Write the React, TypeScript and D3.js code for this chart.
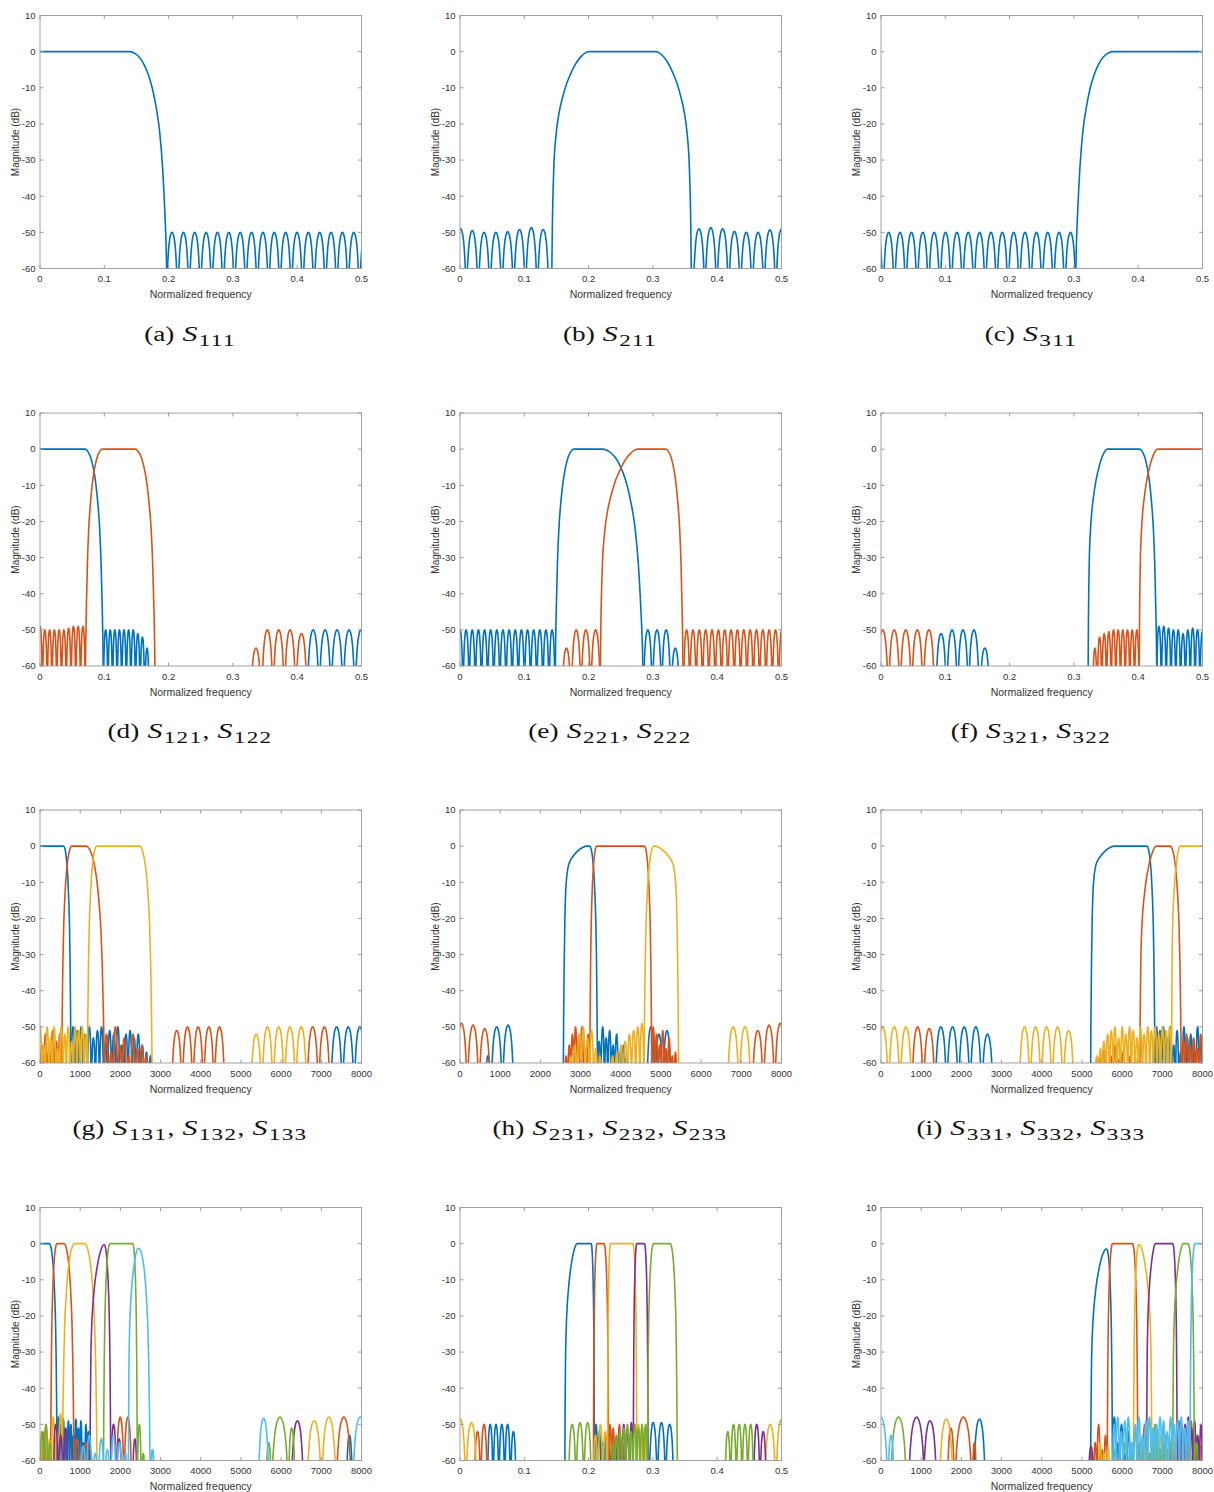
import React from "react";
import * as d3 from "d3";

// MATLAB default line colours
const COLORS = ["#0072BD", "#D95319", "#EDB120", "#7E2F8E", "#77AC30", "#4DBEEE"];

const Y_TICKS = [-60, -50, -40, -30, -20, -10, 0, 10];
const X_TICKS_NORM = [0, 0.1, 0.2, 0.3, 0.4, 0.5];
const X_TICKS_HZ = [0, 1000, 2000, 3000, 4000, 5000, 6000, 7000, 8000];

// edge shapes: [t, dB below peak], t=0 at knee, t=1 at foot
const EDGE_SHARP = [[0, 0], [0.1, -0.3], [0.2, -1], [0.3, -2.2], [0.4, -4], [0.5, -6.5], [0.6, -10], [0.7, -15], [0.8, -22], [0.88, -32], [0.94, -44], [0.98, -55], [1, -65]];
const EDGE_SOFT = [[0, 0], [0.1, -0.4], [0.2, -1.3], [0.3, -2.6], [0.4, -4.3], [0.5, -6.5], [0.6, -9], [0.7, -12.5], [0.8, -17], [0.88, -23], [0.94, -32], [0.98, -48], [1, -65]];
const EDGE_ROUND = [[0, 0], [0.15, -0.3], [0.3, -0.9], [0.45, -1.8], [0.6, -3], [0.7, -4], [0.8, -6], [0.86, -9], [0.9, -13], [0.93, -20], [0.96, -32], [0.985, -48], [1, -65]];
const EDGE_SHAPES = [EDGE_SHARP, EDGE_SOFT, EDGE_ROUND];

// one stopband lobe: [u, dB below lobe peak]
const LOBE_SHAPE = [[0, -40], [0.02, -24], [0.05, -16], [0.1, -10.2], [0.15, -7], [0.2, -4.6], [0.3, -1.8], [0.4, -0.45], [0.5, 0], [0.6, -0.45], [0.7, -1.8], [0.8, -4.6], [0.85, -7], [0.9, -10.2], [0.95, -16], [0.98, -24], [1, -40]];

// bands: [curve, footLo, kneeLo, kneeHi, footHi, peak dB, shapeLo, shapeHi]
// lobes: [curve, from, to, peaks of each lobe]
const BANDS_A = [[0, -0.2, -0.1, 0.14, 0.1975, 0, 0, 0]];
const LOBES_A = [[0, 0.1965, 0.5145, [-50, -50, -50, -50, -50, -50, -50, -50, -50, -50, -50, -50, -50, -50, -50, -50, -50, -50]]];

const BANDS_B = [[0, 0.1425, 0.2, 0.305, 0.36, 0, 1, 1]];
const LOBES_B = [
  [0, -0.0085, 0.1385, [-49, -49.5, -50, -50, -49.8, -49.2, -48.7, -49.2]],
  [0, 0.3625, 0.5095, [-49, -48.7, -49, -49.7, -50, -50, -49.3, -49]],
];

const BANDS_C = [[0, 0.3025, 0.36, 0.6, 0.7, 0, 0, 0]];
const LOBES_C = [[0, -0.0145, 0.3035, [-50, -50, -50, -50, -50, -50, -50, -50, -50, -50, -50, -50, -50, -50, -50, -50, -50, -50]]];

const BANDS_D = [
  [0, -0.2, -0.1, 0.07, 0.0985, 0, 0, 0],
  [1, 0.0705, 0.097, 0.148, 0.179, 0, 0, 0],
];
const LOBES_D = [
  [0, 0.0985, 0.17, [-50, -50, -50, -50, -50, -50, -50, -51, -52, -55]],
  [0, 0.4155, 0.5085, [-50, -50, -50, -50, -50]],
  [1, -0.0036, 0.0705, [-49, -50, -50, -50, -50, -50, -49.5, -49, -49, -49]],
  [1, 0.327, 0.4155, [-55, -50, -50, -50, -51]],
];

const BANDS_E = [
  [0, 0.148, 0.177, 0.222, 0.285, 0, 0, 0],
  [1, 0.218, 0.276, 0.32, 0.347, 0, 1, 0],
];
const LOBES_E = [
  [0, -0.0048, 0.148, [-50, -50, -50, -50, -50, -50, -50, -50, -50, -50, -50, -50, -50, -50, -50, -50]],
  [0, 0.285, 0.342, [-50, -50, -50, -55]],
  [1, 0.158, 0.2185, [-55, -50, -50, -50]],
  [1, 0.3475, 0.5055, [-50, -50, -50, -50, -50, -50, -50, -50, -50, -50, -50, -50, -50, -50, -50, -50]],
];

const BANDS_F = [
  [0, 0.322, 0.352, 0.402, 0.429, 0, 1, 0],
  [1, 0.4015, 0.43, 0.6, 0.7, 0, 1, 0],
];
const LOBES_F = [
  [0, 0.085, 0.17, [-51, -50, -50, -50, -55]],
  [0, 0.4285, 0.5035, [-49, -49, -49.5, -50, -50, -51, -50, -49.5, -50, -50.5]],
  [1, -0.0065, 0.0835, [-50, -50, -50, -50, -50]],
  [1, 0.329, 0.4015, [-55, -52, -51, -50.5, -50, -50, -50, -50, -50, -50]],
];

const BANDS_G = [
  [0, -2000, -1000, 590, 770, 0, 0, 0],
  [1, 540, 790, 1150, 1600, 0, 0, 0],
  [2, 1180, 1410, 2480, 2790, 0, 0, 0],
];
const LOBES_G = [
  [0, 770, 2800, [-50, -51, -50, -52, -50, -53, -51, -50, -54, -51, -52, -50, -55, -52, -51, -53, -52, -55, -57, -58]],
  [0, 7235, 8105, [-50, -50, -50]],
  [1, 0, 540, [-55, -52, -56, -51, -54, -52]],
  [1, 1600, 2700, [-52, -57, -50, -55, -53, -58, -52, -56, -55, -58]],
  [1, 3270, 4600, [-51, -50, -50, -50, -50]],
  [1, 6640, 7220, [-50, -50]],
  [2, -40, 1180, [-50, -55, -50, -53, -50, -56, -50, -52, -50, -54, -50, -51, -50, -52]],
  [2, 5240, 6640, [-52, -50, -50, -50, -50]],
];

const BANDS_H = [
  [0, 2570, 3150, 3230, 3420, 0, 2, 0],
  [1, 3230, 3400, 4590, 4770, 0, 0, 0],
  [2, 4580, 4820, 4850, 5440, 0, 0, 2],
];
const LOBES_H = [
  [0, 620, 770, [-58]],
  [0, 770, 1340, [-50, -49.5]],
  [0, 3420, 4200, [-54, -50, -53, -51, -55, -52, -57, -55, -58]],
  [0, 4650, 5250, [-50, -52, -51]],
  [1, -110, 760, [-49, -49.5, -50.5]],
  [1, 2600, 3230, [-58, -55, -52, -50, -53, -50, -56, -52]],
  [1, 4770, 5400, [-50, -52, -55, -51, -56, -53, -58, -57]],
  [1, 7270, 8110, [-51, -49.5, -49]],
  [2, 2700, 4580, [-58, -55, -52, -50, -53, -51, -56, -58, -60, -60, -58, -57, -55, -54, -52, -51, -50, -49]],
  [2, 6650, 7240, [-50, -50]],
];

const BANDS_I = [
  [0, 5215, 5800, 6620, 6815, 0, 2, 0],
  [1, 6440, 6850, 7200, 7470, 0, 1, 0],
  [2, 7230, 7440, 9000, 9500, 0, 1, 0],
];
const LOBES_I = [
  [0, 1345, 2795, [-50, -50, -50, -50, -52]],
  [0, 6815, 8005, [-50, -51, -50, -53, -50, -55, -51, -57, -50, -53, -52, -56, -50, -54]],
  [1, 765, 1345, [-50, -50.5]],
  [1, 5300, 6440, [-60, -58, -56, -60, -58, -55, -59, -57, -60, -58, -60, -59]],
  [1, 7470, 8000, [-54, -52, -55, -53, -56, -52]],
  [2, -105, 765, [-50, -50, -50]],
  [2, 3435, 4805, [-50, -50, -50, -50, -51]],
  [2, 5230, 7230, [-60, -58, -56, -54, -52, -51, -50, -53, -50, -52, -50, -51, -53, -50, -52, -50, -51, -50, -52, -50, -51, -50]],
];

const BANDS_J = [
  [0, -2000, -1000, 235, 425, 0, 0, 0],
  [1, 265, 420, 600, 845, 0, 0, 0],
  [2, 555, 860, 1110, 1420, 0, 0, 0],
  [3, 1244, 1590, 1600, 1760, -0.3, 1, 0],
  [4, 1580, 1740, 2310, 2420, 0, 0, 0],
  [5, 2200, 2440, 2460, 2740, -1.3, 1, 0],
];
const LOBES_J = [
  [0, 425, 1300, [-48, -50, -48.5, -52, -49, -50, -53, -48.5, -51, -49, -55, -50, -52, -58]],
  [0, 7620, 7780, [-53]],
  [1, -50, 265, [-55, -52, -58]],
  [1, 845, 1300, [-54, -58, -56]],
  [1, 1060, 1230, [-55]],
  [1, 1900, 2280, [-48, -48]],
  [1, 7370, 7750, [-48]],
  [2, -80, 555, [-50, -56, -50, -54, -48, -52, -47]],
  [2, 2740, 2850, [-57]],
  [2, 6640, 7370, [-49, -48]],
  [3, 330, 700, [-50, -53, -51]],
  [3, 1760, 2040, [-50, -54]],
  [3, 2300, 2420, [-54]],
  [3, 6250, 6560, [-49]],
  [4, 0, 300, [-52, -50, -55]],
  [4, 2420, 2620, [-50, -58]],
  [4, 5620, 5760, [-55]],
  [4, 5760, 6180, [-48]],
  [4, 6180, 6350, [-51]],
  [5, 1000, 2200, [-56, -53, -58, -54, -57, -53, -55, -58]],
  [5, 2740, 2860, [-57]],
  [5, 5430, 5700, [-48.3]],
  [5, 7780, 8150, [-48]],
];

const BANDS_K = [
  [0, 0.163, 0.182, 0.204, 0.209, 0, 1, 0],
  [1, 0.2075, 0.213, 0.224, 0.231, 0, 0, 0],
  [2, 0.2295, 0.234, 0.269, 0.275, 0, 0, 0],
  [3, 0.2695, 0.275, 0.287, 0.2925, 0, 0, 0],
  [4, 0.2915, 0.301, 0.327, 0.338, 0, 0, 0],
];
const LOBES_K = [
  [0, 0.0425, 0.0875, [-50, -50, -50, -50, -52]],
  [0, 0.209, 0.245, [-50, -52, -55, -53, -57, -56, -58]],
  [0, 0.294, 0.3325, [-49.5, -49.5, -50]],
  [1, 0.022, 0.0425, [-52, -50]],
  [1, 0.231, 0.26, [-50, -51, -53, -50, -55, -58]],
  [2, -0.0085, 0.0265, [-48.5, -49.5]],
  [2, 0.207, 0.2295, [-53, -50, -52]],
  [2, 0.275, 0.29, [-50, -52, -51]],
  [2, 0.4735, 0.509, [-50, -48.5]],
  [3, 0.24, 0.2695, [-56, -53, -50, -52, -49.5]],
  [3, 0.4565, 0.4765, [-50, -52]],
  [4, 0.1685, 0.2045, [-50, -49.5, -49.5]],
  [4, 0.235, 0.2915, [-55, -53, -52, -51, -50, -52, -50, -51, -50, -50]],
  [4, 0.412, 0.4565, [-52, -50, -50, -50, -50]],
];

const BANDS_L = [
  [0, 5215, 5600, 5620, 5760, -1.5, 1, 0],
  [1, 5630, 5760, 6260, 6390, 0, 0, 0],
  [2, 6280, 6410, 6430, 6740, -0.3, 0, 1],
  [3, 6610, 6830, 7260, 7370, 0, 1, 0],
  [4, 7260, 7520, 7640, 7800, 0, 1, 0],
  [5, 7690, 7810, 9000, 9500, 0, 0, 0],
];
const LOBES_L = [
  [0, 2300, 2600, [-48.5]],
  [0, 5760, 6300, [-48, -55, -50, -58, -52, -56]],
  [1, 1650, 1830, [-51]],
  [1, 1830, 2270, [-48]],
  [1, 2270, 2380, [-55]],
  [1, 5200, 5630, [-58, -55, -50, -57, -53]],
  [1, 6390, 8000, [-55, -50, -58, -53, -56, -51, -57, -52, -55, -50, -54, -49, -53, -56]],
  [2, 1450, 1800, [-48.5]],
  [2, 5300, 5700, [-60, -55, -58, -56]],
  [2, 6740, 8000, [-56, -53, -58, -55, -57, -54, -58, -56]],
  [3, 680, 1090, [-48]],
  [3, 1050, 1390, [-49]],
  [3, 5150, 5300, [-56]],
  [3, 7370, 8000, [-49, -52, -50, -48, -51, -49, -53, -50]],
  [4, 230, 640, [-48]],
  [4, 5760, 7260, [-57, -60, -55, -58, -52, -56, -54, -58, -50, -57, -53, -55]],
  [4, 7800, 8000, [-55, -60]],
  [5, -170, 170, [-48]],
  [5, 170, 330, [-53]],
  [5, 5760, 7690, [-50, -48, -52, -49, -48, -55, -50, -48, -53, -49, -48, -51, -50, -48, -49, -52, -48, -50, -49, -48, -51, -49]],
];

const CAPTIONS = [
  ["a", ["111"]], ["b", ["211"]], ["c", ["311"]],
  ["d", ["121", "122"]], ["e", ["221", "222"]], ["f", ["321", "322"]],
  ["g", ["131", "132", "133"]], ["h", ["231", "232", "233"]], ["i", ["331", "332", "333"]],
];

const COL_LEFT = [40, 460, 881];
const ROW_TOP = [15.5, 413, 810, 1207.5];
const W = 321.5;
const H = 253;

const PANELS = [
  { id: "a", col: 0, row: 0, xMax: 0.5, bands: BANDS_A, lobes: LOBES_A, labels: true },
  { id: "b", col: 1, row: 0, xMax: 0.5, bands: BANDS_B, lobes: LOBES_B, labels: true },
  { id: "c", col: 2, row: 0, xMax: 0.5, bands: BANDS_C, lobes: LOBES_C, labels: true },
  { id: "d", col: 0, row: 1, xMax: 0.5, bands: BANDS_D, lobes: LOBES_D, labels: true },
  { id: "e", col: 1, row: 1, xMax: 0.5, bands: BANDS_E, lobes: LOBES_E, labels: true },
  { id: "f", col: 2, row: 1, xMax: 0.5, bands: BANDS_F, lobes: LOBES_F, labels: true },
  { id: "g", col: 0, row: 2, xMax: 8000, bands: BANDS_G, lobes: LOBES_G, labels: true },
  { id: "h", col: 1, row: 2, xMax: 8000, bands: BANDS_H, lobes: LOBES_H, labels: true },
  { id: "i", col: 2, row: 2, xMax: 8000, bands: BANDS_I, lobes: LOBES_I, labels: true },
  { id: "j", col: 0, row: 3, xMax: 8000, bands: BANDS_J, lobes: LOBES_J, labels: true },
  { id: "k", col: 1, row: 3, xMax: 0.5, bands: BANDS_K, lobes: LOBES_K, labels: false },
  { id: "l", col: 2, row: 3, xMax: 8000, bands: BANDS_L, lobes: LOBES_L, labels: true },
];

const AXIS_GRAY = "#9a9a9a";
const TEXT_GRAY = "#333";
const SANS = "'Liberation Sans', Arial, Helvetica, sans-serif";
const SERIF = "'Liberation Serif', 'Times New Roman', serif";

function bandPoints(b) {
  const [, f0, f1, f2, f3, peak, sLo, sHi] = b;
  const lo = EDGE_SHAPES[sLo];
  const hi = EDGE_SHAPES[sHi];
  const pts = [];
  for (let i = lo.length - 1; i >= 0; i--) {
    const [t, d] = lo[i];
    pts.push([f1 - t * (f1 - f0), peak + d]);
  }
  for (const [t, d] of hi) pts.push([f2 + t * (f3 - f2), peak + d]);
  return pts;
}

function lobeSegments(g) {
  const [, from, to, peaks] = g;
  const w = (to - from) / peaks.length;
  return peaks.map((pk, i) => LOBE_SHAPE.map(([u, d]) => [from + (i + u) * w, pk + d]));
}

function Panel({ p }) {
  const left = COL_LEFT[p.col];
  const top = ROW_TOP[p.row];
  const x = d3.scaleLinear().domain([0, p.xMax]).range([left, left + W]);
  const y = d3.scaleLinear().domain([-60, 10]).range([top + H, top]);
  const line = d3.line().x((d) => x(d[0])).y((d) => y(d[1])).curve(d3.curveMonotoneX);
  const xTicks = p.xMax === 8000 ? X_TICKS_HZ : X_TICKS_NORM;
  const clipId = `clip-${p.id}`;

  // MATLAB draws series in order: collect paths per curve
  const paths = [];
  for (let c = 0; c < COLORS.length; c++) {
    p.bands.filter((b) => b[0] === c).forEach((b) => paths.push({ c, d: line(bandPoints(b)) }));
    p.lobes
      .filter((g) => g[0] === c)
      .forEach((g) => paths.push({ c, d: lobeSegments(g).map((s) => line(s)).join("") }));
  }

  const tk = 3.5;
  return (
    <g>
      <defs>
        <clipPath id={clipId}>
          <rect x={left} y={top} width={W} height={H} />
        </clipPath>
      </defs>
      <rect x={left} y={top} width={W} height={H} fill="#fff" />
      <g clipPath={`url(#${clipId})`}>
        {paths.map((pt, i) => (
          <path key={i} d={pt.d} fill="none" stroke={COLORS[pt.c]} strokeWidth={1.6} strokeLinejoin="round" />
        ))}
      </g>
      <rect x={left} y={top} width={W} height={H} fill="none" stroke={AXIS_GRAY} strokeWidth={0.9} />
      {xTicks.map((v) => (
        <g key={`x${v}`}>
          <line x1={x(v)} x2={x(v)} y1={top + H} y2={top + H - tk} stroke={AXIS_GRAY} />
          <line x1={x(v)} x2={x(v)} y1={top} y2={top + tk} stroke={AXIS_GRAY} />
          <text x={x(v)} y={top + H + 13.5} textAnchor="middle" fontSize={9.5} fontFamily={SANS} fill={TEXT_GRAY}>
            {String(v)}
          </text>
        </g>
      ))}
      {Y_TICKS.map((v) => (
        <g key={`y${v}`}>
          <line x1={left} x2={left + tk} y1={y(v)} y2={y(v)} stroke={AXIS_GRAY} />
          <line x1={left + W} x2={left + W - tk} y1={y(v)} y2={y(v)} stroke={AXIS_GRAY} />
          <text x={left - 4.5} y={y(v) + 3.3} textAnchor="end" fontSize={9.5} fontFamily={SANS} fill={TEXT_GRAY}>
            {v}
          </text>
        </g>
      ))}
      {p.labels && (
        <>
          <text x={left + W / 2} y={top + H + 29.5} textAnchor="middle" fontSize={10.5} fontFamily={SANS} fill={TEXT_GRAY}>
            Normalized frequency
          </text>
          <text
            transform={`translate(${left - 21.5},${top + H / 2}) rotate(-90)`}
            textAnchor="middle"
            fontSize={10}
            fontFamily={SANS}
            fill={TEXT_GRAY}
          >
            Magnitude (dB)
          </text>
        </>
      )}
    </g>
  );
}

function Caption({ idx }) {
  const [letter, subs] = CAPTIONS[idx];
  const col = idx % 3;
  const row = Math.floor(idx / 3);
  const cx = COL_LEFT[col] + 150;
  const cy = ROW_TOP[row] + H + 72;
  return (
    <text
      transform={`translate(${cx},${cy}) scale(1.36,1)`}
      textAnchor="middle"
      fontFamily={SERIF}
      fontSize={20}
      fill="#111"
    >
      {`(${letter})\u00a0`}
      {subs.map((s, i) => (
        <React.Fragment key={i}>
          {i > 0 && <tspan dy={-5}>{",\u00a0"}</tspan>}
          <tspan fontStyle="italic" fontSize={22} dx={1}>S</tspan>
          <tspan fontSize={17} dy={5} dx={1} letterSpacing={1}>{s}</tspan>
        </React.Fragment>
      ))}
    </text>
  );
}

export default function App() {
  return (
    <svg
      width={1214}
      height={1492}
      viewBox="0 0 1214 1492"
      style={{ position: "absolute", left: 0, top: 0, background: "#fff" }}
    >
      <rect width={1214} height={1492} fill="#fff" />
      {PANELS.map((p) => (
        <Panel key={p.id} p={p} />
      ))}
      {CAPTIONS.map((c, i) => (
        <Caption key={c[0]} idx={i} />
      ))}
    </svg>
  );
}
